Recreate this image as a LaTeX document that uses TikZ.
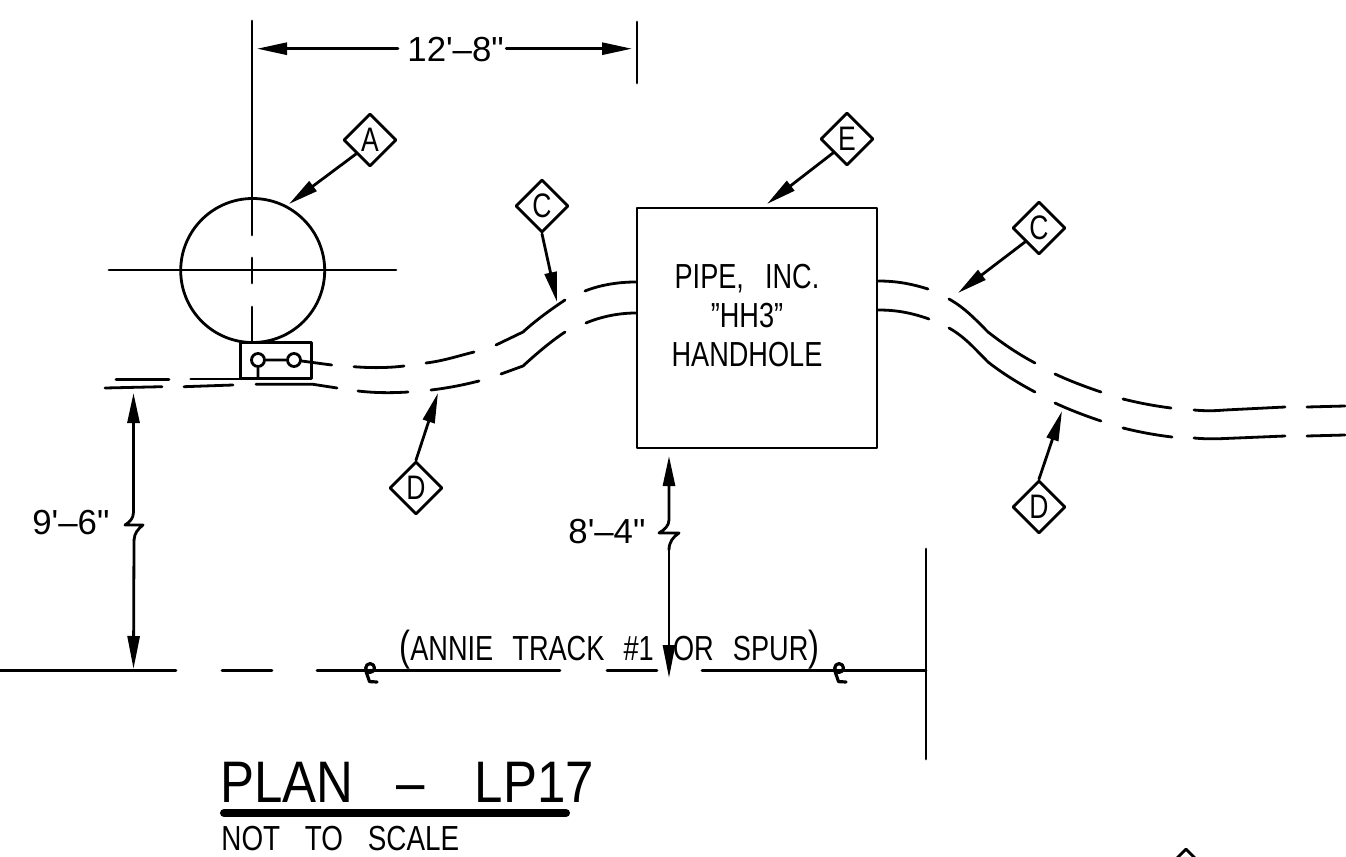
\documentclass[tikz,border=0pt]{standalone}
\usepackage{fontspec}
\setmainfont[FakeStretch=0.78,WordSpace=2.8]{Liberation Sans}
\newfontfamily\dimfont[FakeStretch=1.0]{Liberation Sans}
\newfontfamily\titlefont[FakeStretch=0.87,WordSpace=3]{Liberation Sans}
\newfontfamily\ntsfont[FakeStretch=0.8,WordSpace=3.2]{Liberation Sans}
\usetikzlibrary{shapes.geometric,arrows.meta}
\tikzset{
  ln/.style={line width=1.4pt,line cap=round,line join=round},
  dim/.style={ln,-{Triangle[length=15pt,width=6pt]}},
  tag/.style={diamond,draw,ln,fill=white,aspect=1,inner sep=0pt,minimum size=26.5pt,font=\fontsize{17}{17}\selectfont},
  lbl/.style={inner sep=0pt,anchor=base west,font=\fontsize{17.4}{17.4}\selectfont},
  dimlbl/.style={inner sep=0pt,anchor=base west,font=\dimfont\fontsize{17.4}{17.4}\selectfont},
  clsym/.pic={\draw[line width=1.6pt,line cap=round,line join=round] (0.3pt,1.5pt) circle (2.2pt) (-1.8pt,0pt) -- (0pt,-5.3pt) -- (3.8pt,-5.5pt);}
}
\begin{document}
\begin{tikzpicture}[x=0.5pt,y=-0.5pt]
\useasboundingbox (0,0) rectangle (1346,857);
% pole
\node[circle,draw,ln,inner sep=0pt,minimum size=72pt] (pole) at (252.7,270.5) {};
\draw[ln] (252,21) -- (252,235) (252,258) -- (252,283) (252,307) -- (252,342);
\draw[ln] (109,270) -- (396,270);
% base
\node[draw,ln,inner sep=0pt,minimum width=35.5pt,minimum height=17.8pt] (base) at (276.2,360.5) {};
\node[circle,draw,ln,inner sep=0pt,minimum size=6.5pt] (h1) at (258,360) {};
\node[circle,draw,ln,inner sep=0pt,minimum size=6.5pt] (h2) at (294,360) {};
\coordinate (u0) at (331.7,365);
\coordinate (h1d) at (258,378.5);
\draw[ln] (h1) -- (h2) (h2) -- (u0) (h1) -- (h1d);
% conduit, left part
\draw[ln] (116,379.5) -- (169,379.5) (190.7,379) -- (255,379);
\draw[ln] (105,388) -- (162,386.7) (184,386.7) -- (233,385) (256,384.3) -- (313,384.3) -- (337,388);
\draw[ln] (354,366.7) .. controls (370,368) and (388,368) .. (404,366);
\draw[ln] (358,391) .. controls (375,393) and (392,393) .. (408,392);
\draw[ln] (426,363) .. controls (443,361) and (458,356) .. (474,352);
\draw[ln] (431,390) .. controls (448,388) and (463,385) .. (479,381);
\draw[ln] (496,345) -- (523,332) .. controls (535,321) and (550,310) .. (565,300);
\draw[ln] (501,374) -- (523,366) .. controls (535,355) and (550,342) .. (565,332);
% handhole
\node[draw,ln,inner sep=0pt,minimum width=120pt,minimum height=120pt] (hh) at (757,328) {};
\coordinate (hhul) at (hh.west |- 0,282);
\coordinate (hhll) at (hh.west |- 0,313);
\coordinate (hhur) at (hh.east |- 0,281);
\coordinate (hhlr) at (hh.east |- 0,310);
\draw[ln] (585,291) .. controls (600,285) and (618,282) .. (hhul);
\draw[ln] (586,323) .. controls (600,317) and (618,313) .. (hhll);
\draw[ln] (hhur) .. controls (897,281) and (912,284) .. (928,289);
\draw[ln] (hhlr) .. controls (897,310) and (912,313) .. (929,319);
% conduit, right part
\draw[ln] (949,299) .. controls (965,308) and (975,319) .. (988,332) .. controls (1002,343) and (1018,354) .. (1035,363);
\draw[ln] (949,328) .. controls (965,337) and (975,349) .. (988,362) .. controls (1002,373) and (1018,383) .. (1035,392);
\draw[ln] (1055,374) .. controls (1070,381) and (1086,387) .. (1101,392);
\draw[ln] (1055,403) .. controls (1070,410) and (1086,416) .. (1101,421);
\draw[ln] (1123,399) .. controls (1139,403) and (1155,406) .. (1171,408);
\draw[ln] (1123,428) .. controls (1139,432) and (1155,435) .. (1172,437);
\draw[ln] (1194,410) .. controls (1205,411) and (1213,411) .. (1225,410) -- (1285,407);
\draw[ln] (1194,438) .. controls (1205,439) and (1213,439) .. (1225,438.5) -- (1285,436);
\draw[ln] (1307,407) -- (1345,406);
\draw[ln] (1307,436) -- (1345,435);
% text in the handhole
\node[lbl,anchor=base] (t1) at (747,288) {PIPE, INC.};
\node[lbl,anchor=base] (t2) at (747,327) {"HH3"};
\node[lbl,anchor=base] (t3) at (747,366) {HANDHOLE};
% tags
\node[tag] (A) at (370,140) {A};
\node[tag] (C1) at (542,206) {C};
\node[tag] (E) at (847,139) {E};
\node[tag] (C2) at (1039,228) {C};
\node[tag] (D1) at (416,488) {D};
\node[tag] (D2) at (1039,507) {D};
\coordinate (ta) at (289,204);
\coordinate (tc1) at (557,302);
\coordinate (te) at (767,204);
\coordinate (tc2) at (958,293);
\coordinate (td1) at (438,393);
\coordinate (td2) at (1062,411);
\draw[dim] (A.south west) -- (ta);
\draw[dim] (C1.south) -- (tc1);
\draw[dim] (E.south west) -- (te);
\draw[dim] (C2.south west) -- (tc2);
\draw[dim] (D1.north) -- (td1);
\draw[dim] (D2.north) -- (td2);
% 12'-8" dimension
\coordinate (tk) at (637,22);
\coordinate (tkb) at (637,83);
\draw[ln] (tk) -- (tkb);
\node[dimlbl] (d12) at (407,61) {12'–8"};
\coordinate (l12) at (257,48.7);
\coordinate (r12) at (632,48.7);
\draw[dim] ([xshift=-4.5pt]d12.west |- l12) -- (l12);
\draw[dim] ([xshift=1pt]d12.east |- r12) -- (r12);
% 9'-6" dimension
\coordinate (a1) at (133.5,393);
\coordinate (a2) at (133.5,669);
\draw[ln,{Triangle[length=15pt,width=6pt]}-] (a1) -- (133.5,512) .. controls (133.5,518) and (130,522) .. (125,525) -- (143,525) .. controls (138,529) and (134.5,533) .. (134,540);
\draw[ln,-{Triangle[length=16.5pt,width=6pt]}] (134,540) -- (a2);
\node[dimlbl] (d9) at (32,534) {9'–6"};
% 8'-4" dimension
\coordinate (b1) at (669,456);
\coordinate (b2) at (669,678);
\draw[ln,{Triangle[length=15pt,width=6pt]}-] (b1) -- (669,520) .. controls (669,526) and (664,530) .. (659,533) -- (679,533) .. controls (673,537) and (669,542) .. (669,550);
\draw[ln,-{Triangle[length=16.5pt,width=6pt]}] (669,550) -- (b2);
\node[dimlbl] (d8) at (568,543) {8'–4"};
% track
\draw[ln] (0,670.7) -- (176,670.7) (222,670.7) -- (272,670.7) (317,670.7) -- (560,670.7) (607,670.7) -- (657,670.7) (702,670.7) -- (926,670.7);
\draw[ln] (926,549) -- (926,759);
\pic at (369.5,671) {clsym};
\pic at (838.5,671) {clsym};
\node[lbl] (tr) at (399,660) {\spaceskip=9.6pt{\fontsize{21}{21}\selectfont(}ANNIE TRACK \#1 OR SPUR{\fontsize{21}{21}\selectfont)}};
% title
\node[lbl,font=\titlefont\fontsize{29.3}{29.3}\selectfont] (title) at (220,802) {PLAN –\hspace{4pt} LP17};
\coordinate (ul) at (224,813);
\coordinate (ur) at (566,813);
\draw[line width=4pt,line cap=round] (ul) -- (ur);
\node[lbl,font=\ntsfont\fontsize{17.4}{17.4}\selectfont] (nts) at (221,850) {NOT TO SCALE};
% tag cut off by the lower edge
\begin{scope}
\clip (0,0) rectangle (1346,857);
\node[tag] (cut) at (1186,875) {};
\end{scope}
\end{tikzpicture}
\end{document}
